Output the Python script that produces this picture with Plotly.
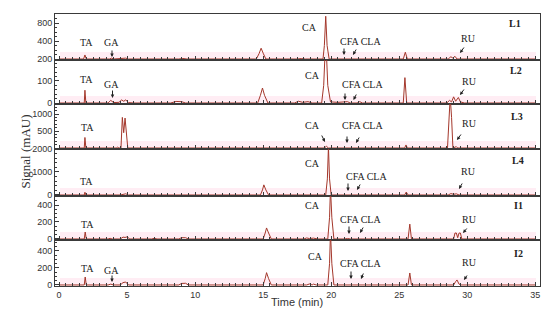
import plotly.graph_objects as go
from plotly.subplots import make_subplots

# ---------------- data ----------------
panel_names = ["L1", "L2", "L3", "L4", "I1", "I2"]

L1_t = [0, 1.8, 1.9, 2.0, 3.7, 3.85, 4.0, 4.5, 4.7, 4.9, 5.1, 8.8, 9.1, 9.4, 14.5, 14.7, 14.85, 15.0, 15.2,
        17.5, 17.8, 18.1, 19.4, 19.5, 19.6, 19.7, 19.85, 25.3, 25.45, 25.6, 28.6, 28.8, 28.95, 29.1, 29.25, 35]
L1_s = [0, 0, 90, 0, 0, 20, 0, 0, 15, 20, 0, 0, 12, 0, 0, 120, 240, 130, 0,
        0, 10, 0, 0, 300, 950, 300, 0, 0, 150, 0, 0, 50, 20, 60, 0, 0]

L2_t = [0, 1.85, 1.9, 1.97, 3.6, 3.8, 4.0, 4.4, 4.6, 4.75, 4.9, 5.1, 5.5, 7.0, 7.2, 7.4, 8.2, 8.6, 9.0, 9.3,
        14.6, 14.8, 14.95, 15.1, 15.35, 17.3, 17.6, 17.9, 18.3, 18.6, 19.3, 19.45, 19.6, 19.75, 19.95,
        20.5, 21.2, 21.4, 21.9, 22.1, 22.3, 25.3, 25.42, 25.55, 28.5, 28.7, 28.85, 29.0, 29.15, 29.35, 29.5, 29.8, 35]
L2_s = [0, 0, 58, 0, 0, 12, 2, 3, 14, 8, 14, 2, 0, 0, 3, 0, 0, 7, 6, 0,
        0, 35, 68, 35, 0, 0, 8, 3, 6, 0, 0, 80, 300, 80, 5,
        3, 6, 0, 0, 6, 0, 0, 115, 0, 0, 12, 5, 28, 8, 25, 5, 0, 0]

L3_t = [0, 1.85, 1.9, 1.97, 4.2, 4.3, 4.4, 4.55, 4.65, 4.75, 4.85, 4.95, 5.05, 9.0, 9.2, 9.4,
        19.5, 19.65, 19.8, 25.4, 25.5, 25.6, 28.55, 28.65, 28.75, 28.85, 28.95, 29.2, 29.3, 35]
L3_s = [0, 0, 310, 0, 0, 25, 0, 0, 900, 450, 880, 300, 0, 0, 10, 0,
        0, 50, 0, 0, 90, 0, 0, 900, 1500, 900, 0, 40, 0, 0]

L4_t = [0, 1.85, 1.9, 1.97, 4.5, 4.7, 4.9, 5.1, 9.0, 9.2, 9.4, 14.8, 14.95, 15.05, 15.2, 15.4,
        19.6, 19.72, 19.8, 19.88, 20.0, 25.4, 25.52, 25.65, 28.6, 28.8, 29.0, 29.2, 29.4, 35]
L4_s = [0, 0, 120, 0, 0, 40, 50, 0, 0, 20, 0, 0, 220, 440, 220, 0,
        0, 700, 2100, 700, 0, 0, 130, 0, 0, 60, 30, 50, 0, 0]

I1_t = [0, 1.85, 1.92, 2.0, 3.6, 3.75, 3.9, 4.5, 4.7, 4.85, 5.0, 5.2, 6.8, 7.0, 7.2, 8.8, 9.0, 9.3, 9.5,
        15.0, 15.15, 15.25, 15.4, 15.6, 18.0, 18.2, 18.4, 18.7, 19.0, 19.75, 19.88, 19.95, 20.05, 20.2,
        21.0, 21.2, 21.4, 25.65, 25.78, 25.9, 29.0, 29.1, 29.2, 29.3, 29.4, 29.5, 29.6, 35]
I1_s = [0, 0, 82, 0, 0, 8, 0, 0, 22, 18, 25, 0, 0, 8, 0, 0, 15, 15, 0,
        0, 70, 130, 70, 0, 0, 12, 5, 10, 0, 0, 250, 600, 250, 0,
        0, 6, 0, 0, 175, 0, 0, 70, 70, 15, 70, 70, 0, 0]

I2_t = [0, 1.85, 1.92, 2.0, 3.6, 3.8, 4.0, 4.5, 4.7, 4.9, 5.1, 6.8, 7.0, 7.2, 8.8, 9.0, 9.3, 9.5,
        15.0, 15.15, 15.25, 15.4, 15.6, 18.2, 18.4, 18.6, 18.7, 18.9, 19.75, 19.88, 19.95, 20.05, 20.2,
        25.65, 25.78, 25.9, 29.0, 29.15, 29.25, 29.4, 29.55, 35]
I2_s = [0, 0, 94, 0, 0, 10, 0, 0, 28, 35, 0, 0, 8, 0, 0, 18, 20, 0,
        0, 75, 145, 75, 0, 0, 12, 0, 10, 0, 0, 250, 620, 250, 0,
        0, 141, 0, 0, 40, 59, 10, 0, 0]

series_t = [L1_t, L2_t, L3_t, L4_t, I1_t, I2_t]
series_s = [L1_s, L2_s, L3_s, L4_s, I1_s, I2_s]

y_tickvals = [[0, 400, 800], [0, 100], [0, 500, 1000], [0, 1000, 2000], [0, 200, 400], [0, 200, 400]]
y_ticktext = [["200", "400", "800"], ["0", "100"], ["", "500", "1000"], ["0", "1000", "2000"],
              ["0", "200", "400"], ["0", "200", "400"]]
x_tickvals = [0, 5, 10, 15, 20, 25, 30, 35]

# ---------------- layout helpers ----------------
OFF = 8  # the page body has an 8 px default margin
W, H = 550 - OFF, 323 - OFF
ML, MR, MT, MB = 55 - OFF, 10, 14 - OFF, 37
PW, PH = W - ML - MR, H - MT - MB


def px_x(p):
    return (p - OFF - ML) / PW


def px_y(p):
    return (H - MB - (p - OFF)) / PH


panel_px = [(14, 60), (60, 104), (104, 149), (149, 196), (196, 240), (240, 286)]
y_ranges = [[-22, 1000], [-4.5, 195], [-29, 1294], [-44, 2000], [-12, 506], [-12, 529]]
y_minor = [100, 20, 100, 200, 50, 50]

fig = make_subplots(rows=6, cols=1, shared_xaxes=False, vertical_spacing=0)

line_col = "#a4372b"
axis_col = "#3a3a3a"

for i in range(6):
    fig.add_trace(go.Scatter(x=series_t[i], y=series_s[i], mode="lines",
                             line=dict(color=line_col, width=1), showlegend=False,
                             hoverinfo="skip"), row=i + 1, col=1)
    top, bot = panel_px[i]
    fig.update_yaxes(domain=[px_y(bot), px_y(top)], range=y_ranges[i],
                     tickvals=y_tickvals[i], ticktext=y_ticktext[i],
                     ticks="inside", ticklen=4, tickcolor=axis_col,
                     minor=dict(ticks="inside", ticklen=2, dtick=y_minor[i], tickcolor=axis_col),
                     showline=True, linecolor=axis_col, linewidth=1, mirror=True,
                     showgrid=False, zeroline=False, automargin=False,
                     tickfont=dict(family="Liberation Sans, Arial", size=9, color="#333"),
                     row=i + 1, col=1)
    fig.update_xaxes(range=[-0.3, 35.35], tickvals=x_tickvals,
                     ticks="inside", ticklen=4, tickcolor=axis_col,
                     minor=dict(ticks="inside", ticklen=3, dtick=0.5, tick0=0, tickcolor=axis_col),
                     showline=True, linecolor=axis_col, linewidth=1, mirror=True,
                     showgrid=False, zeroline=False, automargin=False,
                     showticklabels=(i == 5),
                     tickfont=dict(family="Liberation Sans, Arial", size=9, color="#333"),
                     row=i + 1, col=1)
    # faint pink band along the baseline
    fig.add_shape(type="rect", xref="paper", yref="paper",
                  x0=px_x(60), x1=px_x(536), y0=px_y(bot - 1), y1=px_y(bot - 8),
                  fillcolor="rgba(255,190,215,0.28)", line=dict(width=0), layer="below")

# ---------------- text labels ----------------
serif = "Liberation Serif, Times New Roman, serif"
labels = [
    # (text, x px, y px)
    ("TA", 86, 43), ("GA", 111, 43), ("CA", 309, 27), ("CFA CLA", 360, 42), ("RU", 468, 38),
    ("TA", 86, 79), ("GA", 111, 85), ("CA", 312, 75), ("CFA CLA", 362, 85), ("RU", 469, 81),
    ("TA", 87, 128), ("CA", 312, 125), ("CFA CLA", 362, 125), ("RU", 469, 123),
    ("TA", 86, 181), ("CA", 312, 163), ("CFA CLA", 366, 176), ("RU", 468, 172),
    ("TA", 87, 224), ("CA", 312, 205), ("CFA CLA", 360, 219), ("RU", 469, 219),
    ("TA", 87, 268), ("GA", 111, 270), ("CA", 315, 256), ("CFA CLA", 360, 263), ("RU", 469, 262),
]
for txt, xp, yp in labels:
    fig.add_annotation(text=txt, x=px_x(xp), y=px_y(yp), xref="paper", yref="paper",
                       showarrow=False, font=dict(family=serif, size=10, color="#222"),
                       xanchor="center", yanchor="middle")

panel_label_pos = [(515, 24), (516, 70), (517, 116), (518, 160), (518, 206), (518, 253)]
for name, (xp, yp) in zip(panel_names, panel_label_pos):
    fig.add_annotation(text="<b>%s</b>" % name, x=px_x(xp), y=px_y(yp), xref="paper", yref="paper",
                       showarrow=False, font=dict(family=serif, size=10, color="#222"),
                       xanchor="center", yanchor="middle")

arrows = [
    # (tail x, tail y, head x, head y) in px
    (112, 49, 112, 57), (344, 47, 344, 55), (357, 48, 353, 55), (465, 46, 460, 53),
    (112.5, 89, 112.5, 98), (345, 92, 345, 100), (357, 93, 353.5, 100), (465, 88, 460, 95),
    (321, 134, 325, 142), (347, 135, 347, 143), (360, 136, 356, 143), (462, 133, 457, 140),
    (348, 182, 348, 191), (361, 183, 357, 190), (463, 182, 459, 189),
    (349, 225, 349, 234), (364, 226, 360, 233), (468, 227, 463, 233),
    (112, 274, 112, 282), (351, 270, 351, 279), (364, 272, 361, 279), (468, 274, 464, 280),
]
for tx, ty, hx, hy in arrows:
    fig.add_annotation(x=px_x(hx), y=px_y(hy), xref="paper", yref="paper",
                       ax=tx - hx, ay=ty - hy, axref="pixel", ayref="pixel",
                       text="", showarrow=True, arrowhead=2, arrowsize=0.7,
                       arrowwidth=1, arrowcolor="#222")

# axis titles
fig.add_annotation(text="Signal (mAU)", x=px_x(15), y=px_y(152), xref="paper", yref="paper",
                   textangle=-90, showarrow=False,
                   font=dict(family=serif, size=13, color="#333"))
fig.add_annotation(text="Time (min)", x=px_x(297), y=px_y(310), xref="paper", yref="paper",
                   showarrow=False, font=dict(family="Liberation Sans, Arial", size=11, color="#333"))

fig.update_layout(width=W, height=H, margin=dict(l=ML, r=MR, t=MT, b=MB),
                  plot_bgcolor="white", paper_bgcolor="white", showlegend=False)

fig.write_html("out.html")
